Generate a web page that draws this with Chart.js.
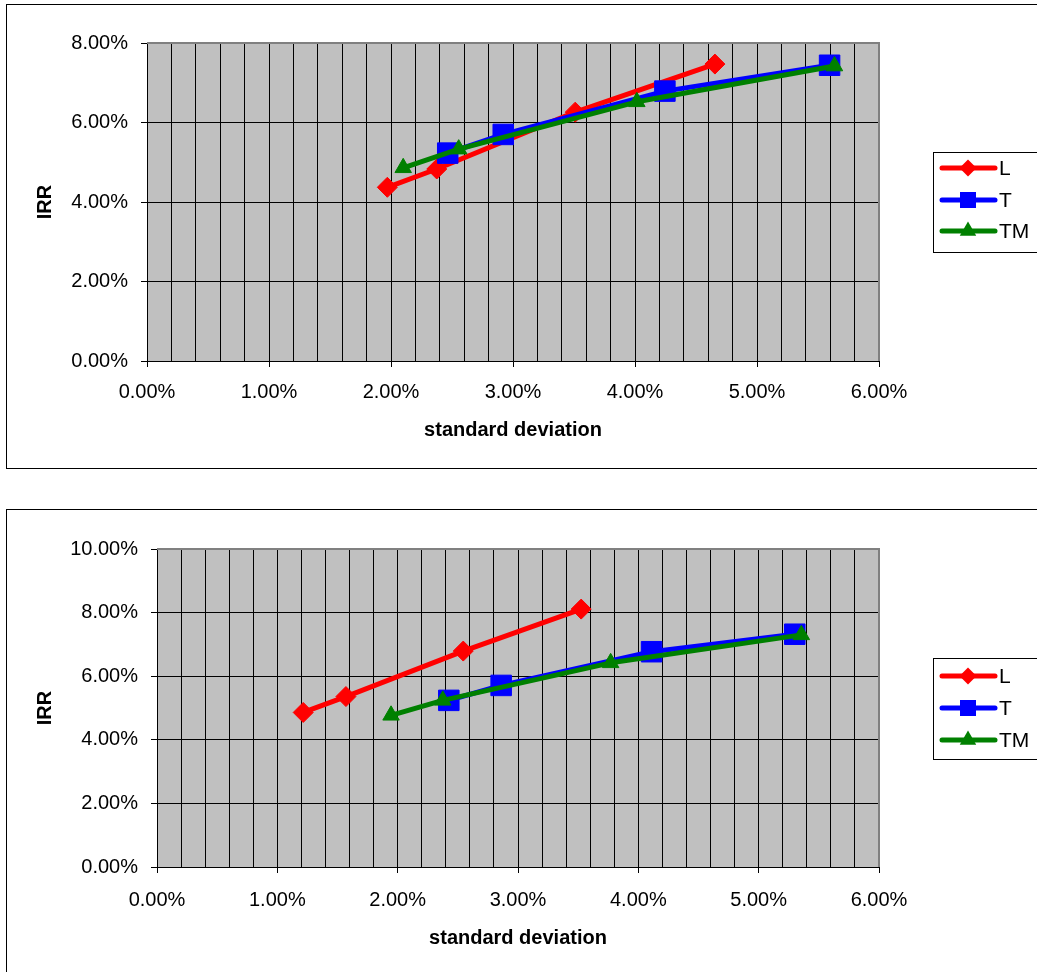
<!DOCTYPE html>
<html>
<head>
<meta charset="utf-8">
<script src="https://cdn.jsdelivr.net/npm/chart.js@4.4.1/dist/chart.umd.min.js"></script>
<style>
  body { margin: 0; background: #fff; width: 1037px; height: 972px; overflow: hidden; position: relative; }
  .frame { position: absolute; border: 1px solid #000; background: #fff; }
  #f1 { left: 6px; top: 4px; width: 1100px; height: 463px; }
  #f2 { left: 6px; top: 509px; width: 1100px; height: 600px; }
  canvas { position: absolute; left: 0; }
  #c1 { top: 0; }
  #c2 { top: 500px; }
</style>
</head>
<body>
<div class="frame" id="f1"></div>
<div class="frame" id="f2"></div>
<canvas id="c1" width="1037" height="475"></canvas>
<canvas id="c2" width="1037" height="472"></canvas>
<script>
// values, in percent

const seriesNames = ['L', 'T', 'TM'];
const seriesColors = ['#ff0000', '#0000ff', '#008000'];

// upper chart
const top_L_x = [1.97, 2.375, 3.51, 4.655];
const top_L_y = [4.37, 4.83, 6.26, 7.47];
const top_T_x = [2.465, 2.92, 4.245, 5.595];
const top_T_y = [5.23, 5.70, 6.79, 7.44];
const top_TM_x = [2.10, 2.555, 4.015, 5.635];
const top_TM_y = [4.86, 5.33, 6.52, 7.42];
const top_y_ticks = [0, 2, 4, 6, 8];

// lower chart
const bot_L_x = [1.215, 1.57, 2.545, 3.525];
const bot_L_y = [4.86, 5.36, 6.79, 8.11];
const bot_T_x = [2.425, 2.86, 4.11, 5.30];
const bot_T_y = [5.24, 5.71, 6.77, 7.32];
const bot_TM_x = [1.945, 2.375, 3.77, 5.355];
const bot_TM_y = [4.77, 5.24, 6.42, 7.30];
const bot_y_ticks = [0, 2, 4, 6, 8, 10];

const x_ticks = [0, 1, 2, 3, 4, 5, 6];
const x_minor_step = 0.2;

const FONT = "'Liberation Sans', Arial, sans-serif";

function isMajor(v) {
  return x_ticks.some(t => Math.abs(t - v) < 1e-6);
}

function pts(xs, ys) {
  return xs.map((x, i) => ({ x: x, y: ys[i] }));
}

// marker shapes for the legend
function marker(ctx, shape, x, y, r) {
  ctx.beginPath();
  if (shape == 'rectRot') {
    ctx.moveTo(x, y - r); ctx.lineTo(x + r, y); ctx.lineTo(x, y + r); ctx.lineTo(x - r, y);
  } else if (shape == 'rect') {
    ctx.rect(x - r, y - r, 2 * r, 2 * r);
  } else {
    ctx.moveTo(x, y - r); ctx.lineTo(x + r * 0.866, y + r / 2); ctx.lineTo(x - r * 0.866, y + r / 2);
  }
  ctx.closePath();
  ctx.fill();
}

const plotBg = {
  id: 'plotBg',
  beforeDraw(chart) {
    const a = chart.chartArea, ctx = chart.ctx;
    ctx.save();
    ctx.fillStyle = '#c0c0c0';
    ctx.fillRect(a.left, a.top, a.right - a.left, a.bottom - a.top);
    ctx.restore();
  },
  beforeDatasetsDraw(chart) {
    const a = chart.chartArea, ctx = chart.ctx;
    ctx.save();
    ctx.strokeStyle = '#808080';
    ctx.lineWidth = 2;
    ctx.beginPath();
    ctx.moveTo(a.left, a.top); ctx.lineTo(a.right, a.top); ctx.lineTo(a.right, a.bottom);
    ctx.stroke();
    ctx.restore();
  }
};

const boxLegend = {
  id: 'boxLegend',
  afterDraw(chart, args, opts) {
    const ctx = chart.ctx;
    ctx.save();
    ctx.fillStyle = '#fff';
    ctx.fillRect(opts.x, opts.y, opts.w, opts.h);
    ctx.strokeStyle = '#000';
    ctx.lineWidth = 1;
    ctx.strokeRect(opts.x + 0.5, opts.y + 0.5, opts.w, opts.h);
    const shapes = ['rectRot', 'rect', 'triangle'];
    const sizes = [8.5, 8, 9.5];
    chart.data.datasets.forEach((ds, i) => {
      const y = opts.rows[i];
      ctx.strokeStyle = ds.borderColor;
      ctx.lineWidth = 5;
      ctx.lineCap = 'round';
      ctx.beginPath();
      ctx.moveTo(opts.x + 9, y); ctx.lineTo(opts.x + 62, y);
      ctx.stroke();
      ctx.fillStyle = ds.borderColor;
      marker(ctx, shapes[i], opts.x + 35, y, sizes[i]);
      ctx.fillStyle = '#000';
      ctx.font = '21px ' + FONT;
      ctx.textBaseline = 'middle';
      ctx.fillText(ds.label, opts.x + 66, y + 1);
    });
    ctx.restore();
  }
};

function makeChart(id, series, yTicks, area, legend) {
  const canvas = document.getElementById(id);
  const tickFont = { family: FONT, size: 20 };
  const titleFont = { family: FONT, size: 20, weight: 'bold' };
  const styles = [
    { pointStyle: 'rectRot', pointRadius: 10 },
    { pointStyle: 'rect', pointRadius: 14.5 },
    { pointStyle: 'triangle', pointRadius: 9.5 }
  ];
  const datasets = series.map((s, i) => ({
    label: seriesNames[i],
    data: s,
    borderColor: seriesColors[i],
    backgroundColor: seriesColors[i],
    pointBackgroundColor: seriesColors[i],
    pointBorderColor: seriesColors[i],
    pointBorderWidth: 1,
    pointStyle: styles[i].pointStyle,
    pointRadius: styles[i].pointRadius,
    pointHoverRadius: styles[i].pointRadius,
    borderWidth: 5,
    borderJoinStyle: 'round',
    borderCapStyle: 'round',
    showLine: true,
    tension: 0,
    order: 3 - i
  }));

  return new Chart(canvas, {
    type: 'scatter',
    data: { datasets: datasets },
    plugins: [plotBg, boxLegend],
    options: {
      responsive: false,
      animation: false,
      layout: {
        padding: {
          left: 0,
          top: area.top,
          right: canvas.width - area.right,
          bottom: canvas.height - area.bottom - 90
        }
      },
      plugins: {
        legend: { display: false },
        tooltip: { enabled: false },
        boxLegend: legend
      },
      scales: {
        x: {
          type: 'linear',
          min: x_ticks[0],
          max: x_ticks[x_ticks.length - 1],
          ticks: {
            stepSize: x_minor_step,
            autoSkip: false,
            maxRotation: 0,
            color: '#000',
            font: tickFont,
            padding: area.xPad,
            callback: v => isMajor(v) ? v.toFixed(2) + '%' : ''
          },
          grid: {
            color: '#000',
            lineWidth: 1,
            tickLength: 6,
            tickColor: c => (c.tick && isMajor(c.tick.value)) ? '#000' : 'rgba(0,0,0,0)'
          },
          border: { color: '#000', width: 1 },
          title: {
            display: true,
            text: 'standard deviation',
            color: '#000',
            font: titleFont,
            padding: { top: 0, bottom: area.titlePad }
          },
          afterFit: s => { s.height = 90; }
        },
        y: {
          type: 'linear',
          min: yTicks[0],
          max: yTicks[yTicks.length - 1],
          afterBuildTicks: s => { s.ticks = yTicks.map(v => ({ value: v })); },
          ticks: {
            color: '#000',
            font: tickFont,
            padding: 13,
            callback: v => v.toFixed(2) + '%'
          },
          grid: { color: '#000', lineWidth: 1, tickLength: 6, tickColor: '#000' },
          border: { color: '#000', width: 1 },
          title: {
            display: true,
            text: 'IRR',
            color: '#000',
            font: titleFont,
            padding: { top: 33, bottom: 0 }
          },
          afterFit: s => { s.width = area.left; }
        }
      }
    }
  });
}

makeChart('c1',
  [pts(top_L_x, top_L_y), pts(top_T_x, top_T_y), pts(top_TM_x, top_TM_y)],
  top_y_ticks,
  { left: 147, right: 879, top: 43, bottom: 361, xPad: 13, titlePad: 9 },
  { x: 933, y: 152, w: 130, h: 100, rows: [168, 200, 231] });

makeChart('c2',
  [pts(bot_L_x, bot_L_y), pts(bot_T_x, bot_T_y), pts(bot_TM_x, bot_TM_y)],
  bot_y_ticks,
  { left: 157, right: 879, top: 49, bottom: 367, xPad: 15, titlePad: 7 },
  { x: 933, y: 158, w: 130, h: 101, rows: [176, 208, 240] });
</script>
</body>
</html>
